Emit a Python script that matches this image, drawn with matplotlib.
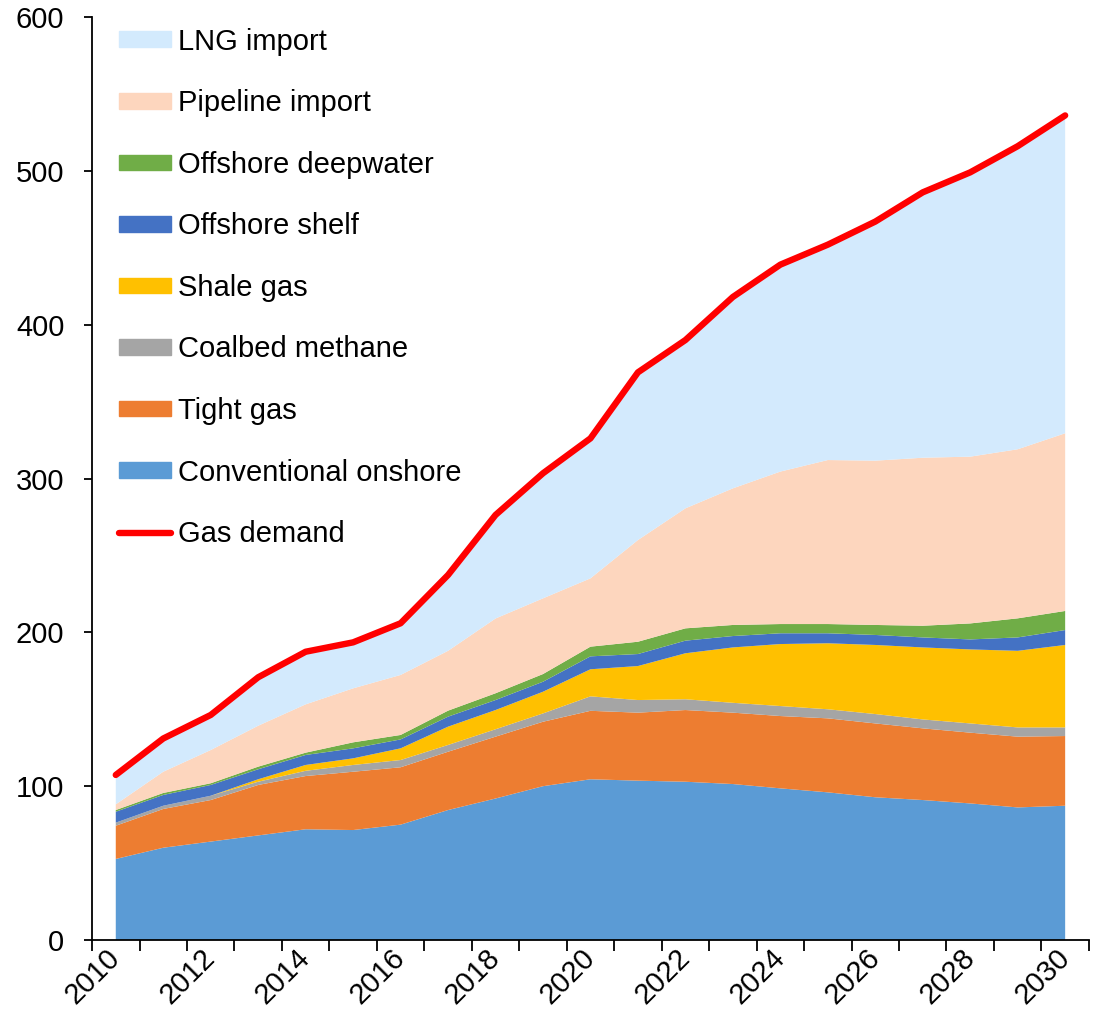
import numpy as np
import matplotlib
matplotlib.use('Agg')
import matplotlib.pyplot as plt
from matplotlib.patches import Patch
from matplotlib.lines import Line2D

plt.rcParams['font.family'] = ['Liberation Sans', 'DejaVu Sans']

years = list(range(2010, 2031))

conventional = [52.7, 60, 64, 68, 72, 71.5, 75, 84.5, 92, 100, 104.5,
                103.6, 102.9, 101.4, 98.6, 96, 92.8, 91, 88.8, 86.2, 87.3]
tight = [21.6, 25.2, 27, 32.8, 34.6, 37.9, 37.3, 37.9, 40.2, 41.9, 44.5,
         44.2, 46.6, 46.4, 47, 48.1, 48, 46.6, 46, 46, 45.3]
coalbed = [2, 2.1, 2.8, 2.1, 3.4, 4.4, 4.7, 4.4, 4.8, 5.4, 9.4,
           8.2, 7, 6.4, 6.5, 5.9, 6.1, 5.8, 6, 6, 5.6]
shale = [0, 0, 0, 1.6, 3.8, 4.3, 7.6, 11.9, 12.5, 14.1, 17.6,
         22.1, 29.9, 36, 40.3, 42.9, 44.9, 46.8, 48.1, 49.8, 53.6]
shelf = [7.1, 7, 7, 6.5, 6.5, 6.5, 5.8, 6.5, 6.5, 6.5, 8.4,
         7.8, 8.2, 7.4, 7, 6.5, 6.5, 6.5, 6.5, 8.7, 9.7]
deepwater = [1.1, 1.3, 1.1, 1.7, 1.5, 3.9, 2.9, 3.9, 4.4, 5, 6.3,
             8, 8, 7.2, 6, 6, 6.5, 7.6, 10.4, 12.4, 12.4]
pipeline = [3.7, 13.8, 21.6, 26.6, 31.4, 35.1, 39, 38.9, 48.6, 49.2, 44.4,
            66.1, 78, 88.8, 99.1, 106.6, 106.8, 109.2, 108.4, 109.9, 115.5]
lng = [19.1, 21.6, 22.8, 31.5, 34.2, 29.9, 33.6, 49.3, 67.3, 81.3, 91,
       109, 109.4, 124.4, 134.5, 140, 155.4, 172.5, 184.8, 197, 206.6]
demand = [107.3, 131, 146.3, 170.8, 187.4, 193.5, 205.9, 237.3, 276.3, 303.4, 326.1,
          369, 390, 418, 439, 452, 467, 486, 499, 516, 536]

labels = ['Conventional onshore', 'Tight gas', 'Coalbed methane', 'Shale gas',
          'Offshore shelf', 'Offshore deepwater', 'Pipeline import', 'LNG import']
colors = ['#5B9BD5', '#ED7D31', '#A5A5A5', '#FFC000',
          '#4472C4', '#70AD47', '#FDD6BE', '#D3EAFD']

fs = 21

fig = plt.figure(figsize=(11.01, 10.22), dpi=100)
ax = fig.add_axes([0.0836, 0.0802, 0.9054, 0.9032])

x = np.arange(len(years))
ax.stackplot(x, conventional, tight, coalbed, shale, shelf, deepwater, pipeline, lng,
             colors=colors, linewidth=0)
ax.plot(x, demand, color='#FF0000', lw=4.6, solid_capstyle='round', zorder=5)

ax.set_xlim(-0.5, len(years) - 0.5)
ax.set_ylim(0, 600)
ax.set_yticks(range(0, 601, 100))

# category boundaries get the ticks, every 2nd year gets a label
ax.set_xticks(np.arange(-0.5, len(years), 1))
ax.set_xticklabels([])
ax.set_xticks(x[::2], minor=True)
ax.set_xticklabels([str(y) for y in years[::2]], minor=True, rotation=45,
                   ha='right', va='center', rotation_mode='anchor')
ax.tick_params(axis='x', which='major', direction='out', length=8, width=1.3)
ax.tick_params(axis='x', which='minor', length=0, pad=10, labelsize=fs)
ax.tick_params(axis='y', direction='out', length=6, width=1.3, labelsize=fs, pad=14)

for s in ['top', 'right']:
    ax.spines[s].set_visible(False)
for s in ['left', 'bottom']:
    ax.spines[s].set_linewidth(1.3)

handles = [Patch(color=c, label=l) for c, l in zip(colors, labels)][::-1]
handles.append(Line2D([], [], color='#FF0000', lw=4.6, solid_capstyle='round', label='Gas demand'))
ax.legend(handles=handles, loc='upper left', frameon=False, fontsize=fs,
          handlelength=1.8, handleheight=0.45, handletextpad=0.25,
          labelspacing=1.15, borderaxespad=0.0, bbox_to_anchor=(0.015, 1.001))

fig.savefig('out.png', dpi=100)
